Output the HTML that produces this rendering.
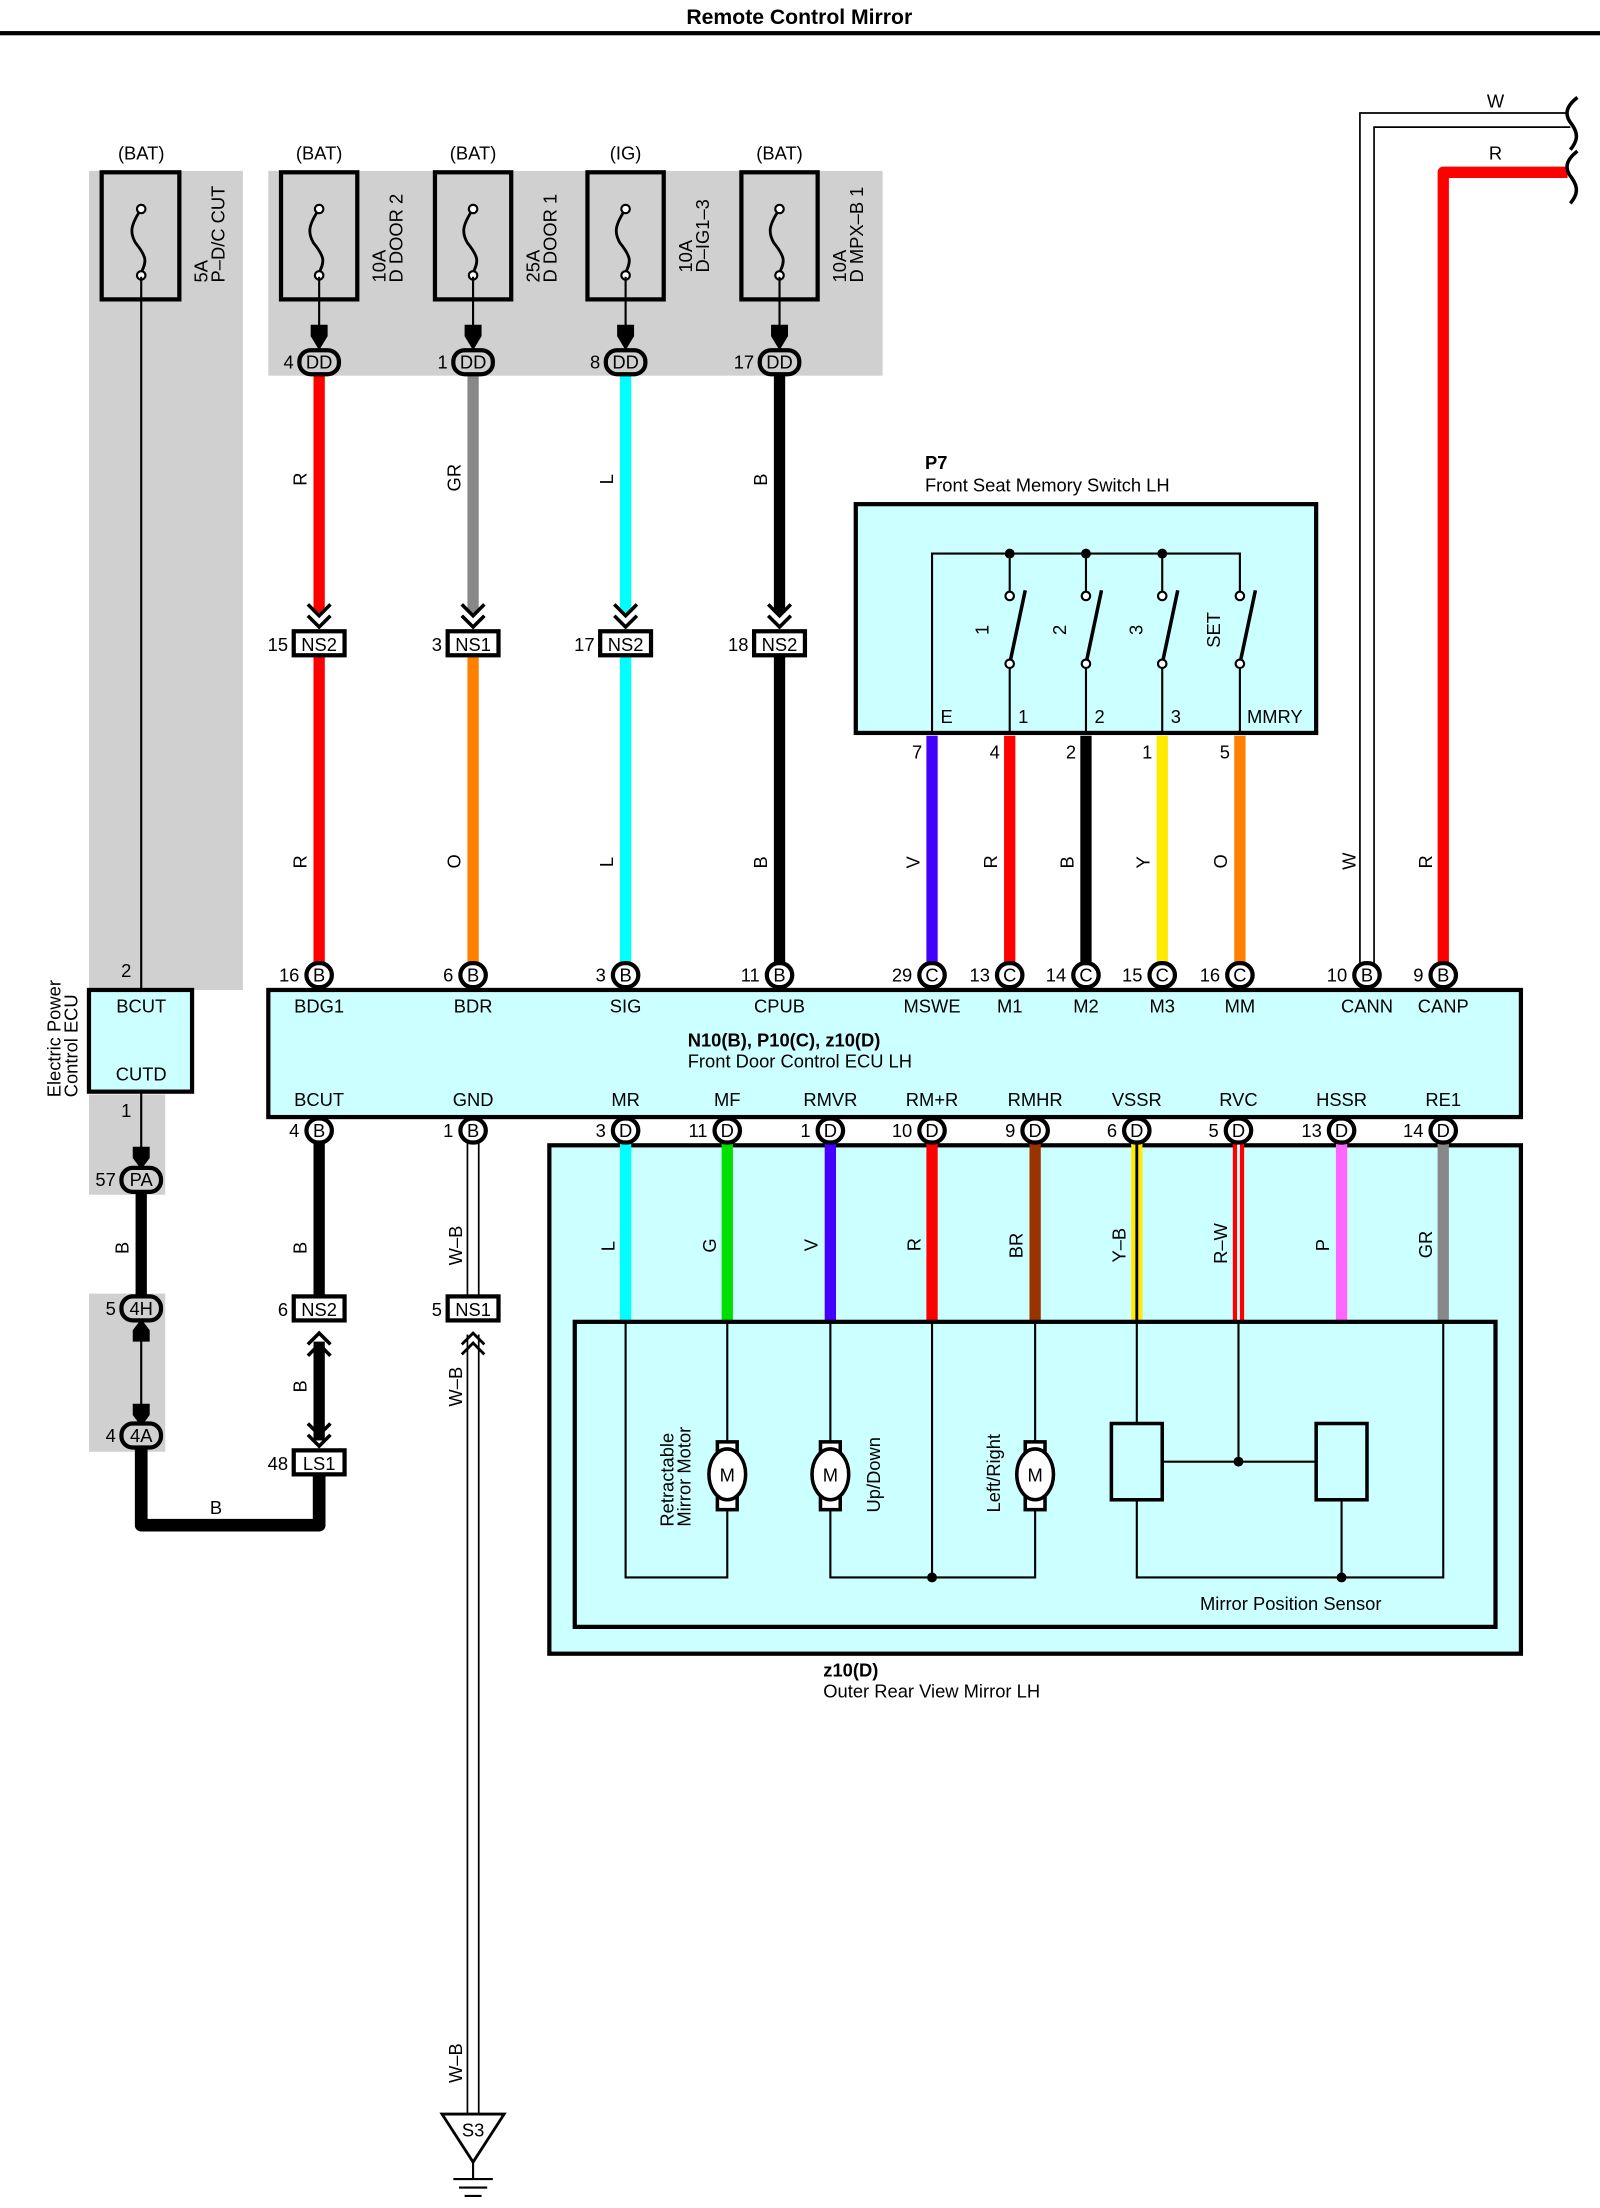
<!DOCTYPE html>
<html><head><meta charset="utf-8"><style>
html,body{margin:0;padding:0;background:#fff;width:1600px;height:2208px;overflow:hidden}
svg{display:block}
text{font-family:"Liberation Sans",sans-serif;font-size:13px;fill:#000}
.c{text-anchor:middle}.e{text-anchor:end}
.pill{fill:#fff;stroke:#000;stroke-width:3}
.pg{fill:#d0d0d0;stroke:#000;stroke-width:3}
.box{fill:#fff;stroke:#000;stroke-width:3}
.t{stroke:#000;stroke-width:1.5;fill:none}
</style></head><body>
<svg width="1600" height="2208" viewBox="0 0 1133 1563.5" preserveAspectRatio="none" xmlns="http://www.w3.org/2000/svg">
<text x="566" y="17" class="c" style="font-weight:bold;font-size:15px">Remote Control Mirror</text>
<rect x="0" y="22" width="1133" height="3" fill="#000"/>

<!-- gray areas -->
<rect x="63" y="121" width="109" height="580" fill="#d0d0d0"/>
<rect x="63" y="775" width="54" height="71" fill="#d0d0d0"/>
<rect x="63" y="916" width="54" height="112" fill="#d0d0d0"/>
<rect x="190" y="121" width="435" height="145" fill="#d0d0d0"/>

<!-- BAT labels -->
<text x="100" y="113" class="c">(BAT)</text>
<text x="226" y="113" class="c">(BAT)</text>
<text x="335" y="113" class="c">(BAT)</text>
<text x="443" y="113" class="c">(IG)</text>
<text x="552" y="113" class="c">(BAT)</text>

<!-- fuses -->
<g stroke="#000" stroke-width="3" fill="none">
<rect x="72" y="122" width="55" height="90"/>
<rect x="199" y="122" width="54" height="90"/>
<rect x="308" y="122" width="54" height="90"/>
<rect x="416" y="122" width="54" height="90"/>
<rect x="525" y="122" width="54" height="90"/>
</g>
<g stroke="#000" stroke-width="2" fill="none">
<path d="M100 148 C92 160,92 165,96 172 C104 182,104 185,100 193"/>
<path d="M226 148 C218 160,218 165,222 172 C230 182,230 185,226 193"/>
<path d="M335 148 C327 160,327 165,331 172 C339 182,339 185,335 193"/>
<path d="M443 148 C435 160,435 165,439 172 C447 182,447 185,443 193"/>
<path d="M552 148 C544 160,544 165,548 172 C556 182,556 185,552 193"/>
</g>
<g fill="#fff" stroke="#000" stroke-width="1.5">
<circle cx="100" cy="195" r="3"/><circle cx="100" cy="148" r="3"/>
<circle cx="226" cy="195" r="3"/><circle cx="226" cy="148" r="3"/>
<circle cx="335" cy="195" r="3"/><circle cx="335" cy="148" r="3"/>
<circle cx="443" cy="195" r="3"/><circle cx="443" cy="148" r="3"/>
<circle cx="552" cy="195" r="3"/><circle cx="552" cy="148" r="3"/>
</g>
<g font-size="12">
<text transform="translate(147,200) rotate(-90)">5A</text>
<text transform="translate(159,200) rotate(-90)">P–D/C CUT</text>
<text transform="translate(273,200) rotate(-90)">10A</text>
<text transform="translate(285,200) rotate(-90)">D DOOR 2</text>
<text transform="translate(382,200) rotate(-90)">25A</text>
<text transform="translate(394,200) rotate(-90)">D DOOR 1</text>
<text transform="translate(490,193) rotate(-90)">10A</text>
<text transform="translate(502,193) rotate(-90)">D–IG1–3</text>
<text transform="translate(599,200) rotate(-90)">10A</text>
<text transform="translate(611,200) rotate(-90)">D MPX–B 1</text>
</g>
<!-- left thin wire -->
<line x1="100" y1="196" x2="100" y2="701" stroke="#000" stroke-width="1.5"/>
<text x="93" y="692" class="e">2</text>

<!-- fuse to DD arrows -->
<g stroke="#000" stroke-width="1.5">
<line x1="226" y1="196" x2="226" y2="240"/><line x1="335" y1="196" x2="335" y2="240"/>
<line x1="443" y1="196" x2="443" y2="240"/><line x1="552" y1="196" x2="552" y2="240"/>
</g>
<g fill="#000">
<path d="M220 230 L232 230 L232 238 L226 248 L220 238Z"/>
<path d="M329 230 L341 230 L341 238 L335 248 L329 238Z"/>
<path d="M437 230 L449 230 L449 238 L443 248 L437 238Z"/>
<path d="M546 230 L558 230 L558 238 L552 248 L546 238Z"/>
</g>

<!-- wires fuse->NS -->
<rect x="222" y="264" width="8" height="170" fill="#f00"/>
<rect x="331" y="264" width="8" height="170" fill="#888"/>
<rect x="439" y="264" width="8" height="170" fill="#0ff"/>
<rect x="548" y="264" width="8" height="170" fill="#000"/>
<!-- chevrons -->
<g fill="none" stroke="#000" stroke-width="2.5">
<path d="M218 428 L226 436 L234 428 M218 436 L226 444 L234 436"/>
<path d="M327 428 L335 436 L343 428 M327 436 L335 444 L343 436"/>
<path d="M435 428 L443 436 L451 428 M435 436 L443 444 L451 436"/>
<path d="M544 428 L552 436 L560 428 M544 436 L552 444 L560 436"/>
</g>
<!-- DD connectors -->
<rect x="212" y="248" width="28" height="17" rx="8" class="pg"/><text x="226" y="261" class="c">DD</text><text x="208" y="261" class="e">4</text>
<rect x="321" y="248" width="28" height="17" rx="8" class="pg"/><text x="335" y="261" class="c">DD</text><text x="317" y="261" class="e">1</text>
<rect x="429" y="248" width="28" height="17" rx="8" class="pg"/><text x="443" y="261" class="c">DD</text><text x="425" y="261" class="e">8</text>
<rect x="538" y="248" width="28" height="17" rx="8" class="pg"/><text x="552" y="261" class="c">DD</text><text x="534" y="261" class="e">17</text>
<g font-size="12">
<text transform="translate(217,344) rotate(-90)">R</text>
<text transform="translate(326,348) rotate(-90)">GR</text>
<text transform="translate(434,343) rotate(-90)">L</text>
<text transform="translate(543,344) rotate(-90)">B</text>
</g>

<!-- wires NS -> ECU -->
<rect x="222" y="464" width="8" height="220" fill="#f00"/>
<rect x="331" y="464" width="8" height="220" fill="#ff8000"/>
<rect x="439" y="464" width="8" height="220" fill="#0ff"/>
<rect x="548" y="464" width="8" height="220" fill="#000"/>
<g font-size="12">
<text transform="translate(217,615) rotate(-90)">R</text>
<text transform="translate(326,615) rotate(-90)">O</text>
<text transform="translate(434,614) rotate(-90)">L</text>
<text transform="translate(543,615) rotate(-90)">B</text>
</g>
<!-- NS boxes -->
<rect x="208" y="447" width="36" height="17" class="box"/><text x="226" y="461" class="c">NS2</text><text x="204" y="461" class="e">15</text>
<rect x="317" y="447" width="36" height="17" class="box"/><text x="335" y="461" class="c">NS1</text><text x="313" y="461" class="e">3</text>
<rect x="425" y="447" width="36" height="17" class="box"/><text x="443" y="461" class="c">NS2</text><text x="421" y="461" class="e">17</text>
<rect x="534" y="447" width="36" height="17" class="box"/><text x="552" y="461" class="c">NS2</text><text x="530" y="461" class="e">18</text>

<!-- P7 switch -->
<text x="655" y="332" style="font-weight:bold">P7</text>
<text x="655" y="348">Front Seat Memory Switch LH</text>
<rect x="606" y="357" width="326" height="162" fill="#ccffff" stroke="#000" stroke-width="3"/>
<g stroke="#000" stroke-width="1.5" fill="none">
<path d="M660 519 V392 H878 V420"/>
<line x1="715" y1="392" x2="715" y2="420"/><line x1="769" y1="392" x2="769" y2="420"/><line x1="823" y1="392" x2="823" y2="420"/>
<line x1="715" y1="472" x2="715" y2="519"/><line x1="769" y1="472" x2="769" y2="519"/><line x1="823" y1="472" x2="823" y2="519"/><line x1="878" y1="472" x2="878" y2="519"/>
</g>
<g stroke="#000" stroke-width="2.5">
<line x1="715" y1="470" x2="726" y2="418"/><line x1="769" y1="470" x2="780" y2="418"/>
<line x1="823" y1="470" x2="834" y2="418"/><line x1="878" y1="470" x2="889" y2="418"/>
</g>
<g fill="#000"><circle cx="715" cy="392" r="3.5"/><circle cx="769" cy="392" r="3.5"/><circle cx="823" cy="392" r="3.5"/></g>
<g fill="#fff" stroke="#000" stroke-width="1.5">
<circle cx="715" cy="422" r="3"/><circle cx="769" cy="422" r="3"/><circle cx="823" cy="422" r="3"/><circle cx="878" cy="422" r="3"/>
<circle cx="715" cy="470" r="3"/><circle cx="769" cy="470" r="3"/><circle cx="823" cy="470" r="3"/><circle cx="878" cy="470" r="3"/>
</g>
<g font-size="12">
<text transform="translate(700,446) rotate(-90)" class="c">1</text>
<text transform="translate(755,446) rotate(-90)" class="c">2</text>
<text transform="translate(809,446) rotate(-90)" class="c">3</text>
<text transform="translate(864,446) rotate(-90)" class="c">SET</text>
</g>
<text x="666" y="512">E</text><text x="721" y="512">1</text><text x="775" y="512">2</text><text x="829" y="512">3</text><text x="883" y="512">MMRY</text>
<!-- P7 wires -->
<rect x="656" y="521" width="8" height="163" fill="#4400ff"/>
<rect x="711" y="521" width="8" height="163" fill="#f00"/>
<rect x="765" y="521" width="8" height="163" fill="#000"/>
<rect x="819" y="521" width="8" height="163" fill="#ffea00"/>
<rect x="874" y="521" width="8" height="163" fill="#ff8000"/>
<text x="653" y="537" class="e">7</text><text x="708" y="537" class="e">4</text><text x="762" y="537" class="e">2</text><text x="816" y="537" class="e">1</text><text x="871" y="537" class="e">5</text>
<g font-size="12">
<text transform="translate(651,615) rotate(-90)">V</text>
<text transform="translate(706,615) rotate(-90)">R</text>
<text transform="translate(760,615) rotate(-90)">B</text>
<text transform="translate(814,615) rotate(-90)">Y</text>
<text transform="translate(869,615) rotate(-90)">O</text>
<text transform="translate(960,616) rotate(-90)">W</text>
<text transform="translate(1014,615) rotate(-90)">R</text>
</g>

<!-- right W / R wires -->
<path d="M963 684 V80 H1110" fill="none" stroke="#000" stroke-width="1.2"/>
<path d="M973 684 V90 H1112" fill="none" stroke="#000" stroke-width="1.2"/>
<path d="M1022 684 V122 H1110" fill="none" stroke="#f00" stroke-width="8" stroke-linejoin="round"/>
<text x="1059" y="76" class="c">W</text><text x="1059" y="113" class="c">R</text>
<g fill="none" stroke="#000" stroke-width="2.5">
<path d="M1117 69 C1108 76,1108 82,1113 88 C1118 95,1117 100,1112 106"/>
<path d="M1117 107 C1108 114,1108 120,1113 126 C1118 133,1117 138,1112 144"/>
</g>

<!-- ECU left -->
<rect x="63" y="701" width="73" height="72" fill="#ccffff" stroke="#000" stroke-width="3"/>
<text x="100" y="717" class="c">BCUT</text><text x="100" y="765" class="c">CUTD</text>
<text transform="translate(43,777) rotate(-90)" font-size="12">Electric Power</text>
<text transform="translate(55,777) rotate(-90)" font-size="12">Control ECU</text>

<!-- Main ECU -->
<rect x="190" y="701" width="887" height="90" fill="#ccffff" stroke="#000" stroke-width="3"/>
<g class="c">
<text x="226" y="717" class="c">BDG1</text><text x="335" y="717" class="c">BDR</text><text x="443" y="717" class="c">SIG</text><text x="552" y="717" class="c">CPUB</text>
<text x="660" y="717" class="c">MSWE</text><text x="715" y="717" class="c">M1</text><text x="769" y="717" class="c">M2</text><text x="823" y="717" class="c">M3</text><text x="878" y="717" class="c">MM</text>
<text x="968" y="717" class="c">CANN</text><text x="1022" y="717" class="c">CANP</text>
<text x="226" y="783" class="c">BCUT</text><text x="335" y="783" class="c">GND</text><text x="443" y="783" class="c">MR</text><text x="515" y="783" class="c">MF</text>
<text x="588" y="783" class="c">RMVR</text><text x="660" y="783" class="c">RM+R</text><text x="733" y="783" class="c">RMHR</text><text x="805" y="783" class="c">VSSR</text>
<text x="877" y="783" class="c">RVC</text><text x="950" y="783" class="c">HSSR</text><text x="1022" y="783" class="c">RE1</text>
</g>
<text x="487" y="741" style="font-weight:bold">N10(B), P10(C), z10(D)</text>
<text x="487" y="756">Front Door Control ECU LH</text>

<!-- top pins -->
<g>
<rect x="217" y="682" width="18" height="17" rx="8.5" class="pill"/><text x="226" y="695" class="c">B</text><text x="212" y="695" class="e">16</text>
<rect x="326" y="682" width="18" height="17" rx="8.5" class="pill"/><text x="335" y="695" class="c">B</text><text x="321" y="695" class="e">6</text>
<rect x="434" y="682" width="18" height="17" rx="8.5" class="pill"/><text x="443" y="695" class="c">B</text><text x="429" y="695" class="e">3</text>
<rect x="543" y="682" width="18" height="17" rx="8.5" class="pill"/><text x="552" y="695" class="c">B</text><text x="538" y="695" class="e">11</text>
<rect x="651" y="682" width="18" height="17" rx="8.5" class="pill"/><text x="660" y="695" class="c">C</text><text x="646" y="695" class="e">29</text>
<rect x="706" y="682" width="18" height="17" rx="8.5" class="pill"/><text x="715" y="695" class="c">C</text><text x="701" y="695" class="e">13</text>
<rect x="760" y="682" width="18" height="17" rx="8.5" class="pill"/><text x="769" y="695" class="c">C</text><text x="755" y="695" class="e">14</text>
<rect x="814" y="682" width="18" height="17" rx="8.5" class="pill"/><text x="823" y="695" class="c">C</text><text x="809" y="695" class="e">15</text>
<rect x="869" y="682" width="18" height="17" rx="8.5" class="pill"/><text x="878" y="695" class="c">C</text><text x="864" y="695" class="e">16</text>
<rect x="959" y="682" width="18" height="17" rx="8.5" class="pill"/><text x="968" y="695" class="c">B</text><text x="954" y="695" class="e">10</text>
<rect x="1013" y="682" width="18" height="17" rx="8.5" class="pill"/><text x="1022" y="695" class="c">B</text><text x="1008" y="695" class="e">9</text>
</g>

<!-- Mirror outer box -->
<rect x="389" y="811" width="688" height="360" fill="#ccffff" stroke="#000" stroke-width="3"/>
<!-- mirror wires -->
<rect x="439" y="808" width="8" height="128" fill="#0ff"/>
<rect x="511" y="808" width="8" height="128" fill="#00e000"/>
<rect x="584" y="808" width="8" height="128" fill="#4400ff"/>
<rect x="656" y="808" width="8" height="128" fill="#f00"/>
<rect x="729" y="808" width="8" height="128" fill="#993300"/>
<rect x="801" y="808" width="8" height="128" fill="#ffea00"/><rect x="804" y="808" width="2" height="128" fill="#000"/>
<rect x="873" y="808" width="8" height="128" fill="#f00"/><rect x="876" y="808" width="2" height="128" fill="#fff"/>
<rect x="946" y="808" width="8" height="128" fill="#ff66ff"/>
<rect x="1018" y="808" width="8" height="128" fill="#888"/>
<g font-size="12">
<text transform="translate(435,886) rotate(-90)">L</text>
<text transform="translate(507,887) rotate(-90)">G</text>
<text transform="translate(579,886) rotate(-90)">V</text>
<text transform="translate(652,886) rotate(-90)">R</text>
<text transform="translate(724,891) rotate(-90)">BR</text>
<text transform="translate(797,894) rotate(-90)">Y–B</text>
<text transform="translate(869,895) rotate(-90)">R–W</text>
<text transform="translate(941,886) rotate(-90)">P</text>
<text transform="translate(1014,891) rotate(-90)">GR</text>
</g>
<!-- bottom pins -->
<g>
<rect x="217" y="792" width="18" height="17" rx="8.5" class="pill"/><text x="226" y="805" class="c">B</text><text x="212" y="805" class="e">4</text>
<rect x="326" y="792" width="18" height="17" rx="8.5" class="pill"/><text x="335" y="805" class="c">B</text><text x="321" y="805" class="e">1</text>
<rect x="434" y="792" width="18" height="17" rx="8.5" class="pill"/><text x="443" y="805" class="c">D</text><text x="429" y="805" class="e">3</text>
<rect x="506" y="792" width="18" height="17" rx="8.5" class="pill"/><text x="515" y="805" class="c">D</text><text x="501" y="805" class="e">11</text>
<rect x="579" y="792" width="18" height="17" rx="8.5" class="pill"/><text x="588" y="805" class="c">D</text><text x="574" y="805" class="e">1</text>
<rect x="651" y="792" width="18" height="17" rx="8.5" class="pill"/><text x="660" y="805" class="c">D</text><text x="646" y="805" class="e">10</text>
<rect x="724" y="792" width="18" height="17" rx="8.5" class="pill"/><text x="733" y="805" class="c">D</text><text x="719" y="805" class="e">9</text>
<rect x="796" y="792" width="18" height="17" rx="8.5" class="pill"/><text x="805" y="805" class="c">D</text><text x="791" y="805" class="e">6</text>
<rect x="868" y="792" width="18" height="17" rx="8.5" class="pill"/><text x="877" y="805" class="c">D</text><text x="863" y="805" class="e">5</text>
<rect x="941" y="792" width="18" height="17" rx="8.5" class="pill"/><text x="950" y="805" class="c">D</text><text x="936" y="805" class="e">13</text>
<rect x="1013" y="792" width="18" height="17" rx="8.5" class="pill"/><text x="1022" y="805" class="c">D</text><text x="1008" y="805" class="e">14</text>
</g>
<!-- inner mirror box -->
<rect x="407" y="936" width="652" height="216" fill="#ccffff" stroke="#000" stroke-width="3"/>
<g stroke="#000" stroke-width="1.5" fill="none">
<path d="M443 936 V1117 H515 V1064"/><path d="M515 936 V1024"/>
<path d="M588 936 V1024"/><path d="M588 1064 V1117 H733 V1064"/><path d="M733 936 V1024"/>
<path d="M660 936 V1117"/>
<path d="M805 936 V1008"/><path d="M805 1062 V1117 H1022 V936"/>
<path d="M877 936 V1035"/><path d="M823 1035 H933"/>
<path d="M950 1062 V1117"/>
</g>
<g fill="#000"><circle cx="660" cy="1117" r="3.5"/><circle cx="877" cy="1035" r="3.5"/><circle cx="950" cy="1117" r="3.5"/></g>
<rect x="787" y="1008" width="36" height="54" fill="none" stroke="#000" stroke-width="2.5"/>
<rect x="932" y="1008" width="36" height="54" fill="none" stroke="#000" stroke-width="2.5"/>
<!-- motors -->
<g stroke="#000" stroke-width="2.5" fill="#fff">
<rect x="508" y="1021" width="14" height="48"/><ellipse cx="515" cy="1044" rx="13" ry="18"/>
<rect x="581" y="1021" width="14" height="48"/><ellipse cx="588" cy="1044" rx="13" ry="18"/>
<rect x="726" y="1021" width="14" height="48"/><ellipse cx="733" cy="1044" rx="13" ry="18"/>
</g>
<text x="515" y="1049" class="c">M</text><text x="588" y="1049" class="c">M</text><text x="733" y="1049" class="c">M</text>
<g font-size="12">
<text transform="translate(477,1081) rotate(-90)">Retractable</text>
<text transform="translate(489,1081) rotate(-90)">Mirror Motor</text>
<text transform="translate(623,1071) rotate(-90)">Up/Down</text>
<text transform="translate(708,1071) rotate(-90)">Left/Right</text>
</g>
<text x="914" y="1140" class="c">Mirror Position Sensor</text>
<text x="583" y="1187" style="font-weight:bold">z10(D)</text>
<text x="583" y="1202">Outer Rear View Mirror LH</text>

<!-- lower left wiring -->
<line x1="100" y1="773" x2="100" y2="820" stroke="#000" stroke-width="1.5"/>
<text x="93" y="791" class="e">1</text>
<path d="M94 812 L106 812 L106 820 L100 828 L94 820Z"/>
<rect x="96" y="845" width="8" height="72" fill="#000"/>
<text font-size="12" transform="translate(91,888) rotate(-90)">B</text>
<line x1="100" y1="935" x2="100" y2="1008" stroke="#000" stroke-width="1.5"/>
<path d="M94 950 L106 950 L106 942 L100 934 L94 942Z"/>
<path d="M94 994 L106 994 L106 1002 L100 1010 L94 1002Z"/>
<path d="M100 1025 V1080 H226 V1043" fill="none" stroke="#000" stroke-width="9" stroke-linejoin="round"/>
<text x="153" y="1072" class="c">B</text>
<rect x="86" y="827" width="28" height="17" rx="8" class="pg"/><text x="100" y="840" class="c">PA</text><text x="82" y="840" class="e">57</text>
<rect x="86" y="918" width="28" height="17" rx="8" class="pg"/><text x="100" y="931" class="c">4H</text><text x="82" y="931" class="e">5</text>
<rect x="86" y="1008" width="28" height="17" rx="8" class="pg"/><text x="100" y="1021" class="c">4A</text><text x="82" y="1021" class="e">4</text>

<rect x="222" y="808" width="8" height="110" fill="#000"/>
<text font-size="12" transform="translate(217,888) rotate(-90)">B</text>
<rect x="222" y="950" width="8" height="70" fill="#000"/>
<g fill="none" stroke="#000" stroke-width="2.5">
<path d="M218 952 L226 944 L234 952 M218 960 L226 952 L234 960"/>
<path d="M218 1016 L226 1024 L234 1016 M218 1008 L226 1016 L234 1008"/>
</g>
<text font-size="12" transform="translate(217,986) rotate(-90)">B</text>
<rect x="208" y="918" width="36" height="17" class="box"/><text x="226" y="932" class="c">NS2</text><text x="204" y="932" class="e">6</text>
<rect x="208" y="1027" width="36" height="17" class="box"/><text x="226" y="1041" class="c">LS1</text><text x="204" y="1041" class="e">48</text>

<!-- GND W-B -->
<g stroke="#000" stroke-width="1.2">
<line x1="331" y1="808" x2="331" y2="918"/><line x1="339" y1="808" x2="339" y2="918"/>
<line x1="331" y1="945" x2="331" y2="1497"/><line x1="339" y1="945" x2="339" y2="1497"/>
</g>
<g fill="none" stroke="#000" stroke-width="2">
<path d="M327 952 L335 944 L343 952 M327 959 L335 951 L343 959"/>
</g>
<g font-size="12">
<text transform="translate(327,896) rotate(-90)">W–B</text>
<text transform="translate(327,996) rotate(-90)">W–B</text>
<text transform="translate(327,1475) rotate(-90)">W–B</text>
</g>
<rect x="317" y="918" width="36" height="17" class="box"/><text x="335" y="932" class="c">NS1</text><text x="313" y="932" class="e">5</text>
<path d="M313 1497 H357 L335 1531Z" fill="#fff" stroke="#000" stroke-width="2"/>
<text x="335" y="1513" class="c">S3</text>
<g stroke="#000" stroke-width="1.5">
<line x1="335" y1="1531" x2="335" y2="1543"/>
<line x1="321" y1="1543" x2="349" y2="1543"/>
<line x1="325" y1="1549" x2="345" y2="1549"/>
<line x1="329" y1="1555" x2="341" y2="1555"/>
</g>
</svg>
</body></html>
